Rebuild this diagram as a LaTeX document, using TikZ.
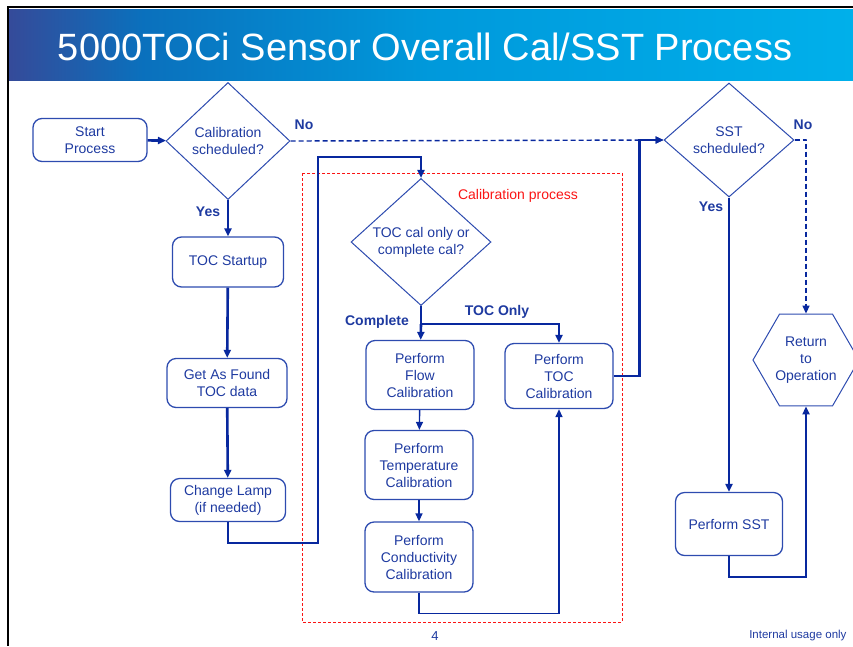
\documentclass[tikz,border=0pt]{standalone}
\usepackage{fontspec}
\setmainfont{Liberation Sans}
\usepackage{xcolor}
\usepackage{tikz}
\usetikzlibrary{arrows.meta,positioning,shapes.geometric}

\definecolor{lineblue}{RGB}{8,40,158}
\definecolor{boxblue}{RGB}{45,75,175}
\definecolor{txtblue}{RGB}{30,58,160}
\definecolor{calred}{RGB}{250,20,20}
\pgfdeclarehorizontalshading{titlebar}{100bp}{rgb(0bp)=(0.21,0.29,0.60); rgb(25bp)=(0.21,0.29,0.60);
  rgb(33bp)=(0.04,0.44,0.74); rgb(50bp)=(0.0,0.60,0.86); rgb(75bp)=(0.0,0.69,0.92); rgb(100bp)=(0.0,0.69,0.92)}

\begin{document}
\begin{tikzpicture}[
    x=1pt, y=-1pt,
    >={Triangle[length=8pt,width=7pt]},
    txt/.style={font=\fontsize{14}{17}\selectfont, text=txtblue, align=center},
    box/.style={txt, draw=boxblue, line width=1.3pt, rounded corners=9pt, inner sep=0pt},
    decision/.style={txt, diamond, draw=boxblue, line width=1pt, inner sep=0pt},
    flow/.style={->, draw=lineblue, line width=2.6pt},
    thinflow/.style={->, draw=lineblue, line width=1.4pt},
    noflow/.style={->, draw=lineblue, line width=1.4pt, dash pattern=on 5pt off 3pt},
    lbl/.style={font=\fontsize{14}{17}\selectfont\bfseries, text=txtblue},
]
\useasboundingbox (0,0) rectangle (853,646);

% --- Title bar ---
\shade[shading=titlebar] (7,9) rectangle (853,80);
\draw[black, line width=2.5pt] (7,7) -- (853,7);
\draw[black, line width=2.5pt] (8,7) -- (8,646);
\node[anchor=base, text=white, font=\fontsize{38}{40}\selectfont] (title) at (425,60)
    {5000TOCi Sensor Overall Cal/SST Process};

% --- Calibration process frame ---
\draw[calred, line width=1pt, dash pattern=on 3pt off 2pt] (302,173) rectangle (622,622);
\node[font=\fontsize{14}{17}\selectfont, text=calred] (calproc) at (518,196) {Calibration process};

% --- Left column ---
\node[box, minimum width=114pt, minimum height=43pt] (start) at (90,140) {Start\\Process};
\node[decision, minimum width=124pt, minimum height=117pt] (calq) at (228,141) {Calibration\\scheduled?};
\node[box, minimum width=111pt, minimum height=50pt] (tocstart) at (228,262) {TOC Startup};
\node[box, minimum width=120pt, minimum height=49pt] (asfound) at (227,383) {Get As Found\\TOC data};
\node[box, minimum width=115pt, minimum height=43pt] (lamp) at (228,500) {Change Lamp\\(if needed)};

% --- Calibration column ---
\node[decision, minimum width=140pt, minimum height=127pt] (tocq) at (421,242) {TOC cal only or\\complete cal?};
\node[box, minimum width=108pt, minimum height=69pt] (flowcal) at (420,375) {Perform\\Flow\\Calibration};
\node[box, minimum width=108pt, minimum height=69pt] (tempcal) at (419,465) {Perform\\Temperature\\Calibration};
\node[box, minimum width=108pt, minimum height=70pt] (condcal) at (419,557) {Perform\\Conductivity\\Calibration};
\node[box, minimum width=108pt, minimum height=65pt] (toccal) at (559,376) {Perform\\TOC\\Calibration};

% --- SST column ---
\node[decision, minimum width=130pt, minimum height=114pt] (sstq) at (729,140) {SST\\scheduled?};
\node[box, minimum width=107pt, minimum height=63pt] (sst) at (729,524) {Perform SST};
\node[txt, regular polygon, regular polygon sides=6, draw=boxblue, line width=1pt,
      minimum size=106pt, inner sep=0pt] (ret) at (806,360) {Return\\to\\Operation};

% --- Connectors ---
\draw[flow] (start) -- (calq);
\draw[noflow] (calq.east) -- (sstq.west);
\draw[flow] (calq) -- (tocstart);
\draw[flow] (tocstart) -- (asfound);
\draw[flow] (asfound) -- (lamp);
\draw[flow] (lamp.south) -- ++(0,21) -| (318,157) -| (tocq.north);
\draw[draw=lineblue, line width=2.6pt] (tocq.south) -- ++(0,18) coordinate (split);
\draw[flow] (split) -- (flowcal);
\draw[flow] (split) -| (toccal.north);
\draw[thinflow] (flowcal) -- (tempcal);
\draw[thinflow] (tempcal) -- (condcal);
\draw[thinflow] (condcal.south) -- ++(0,21) -| (toccal.south);
\draw[flow] (toccal.east) -- ++(26,0) |- (sstq.west);
\draw[noflow] (sstq.east) -- ++(12,0) -| (ret.north);
\draw[flow] (sstq) -- (sst);
\draw[flow] (sst.south) -- ++(0,21) -| (ret.south);

% --- Branch labels ---
\node[lbl] (calno) at (304,125) {No};
\node[lbl] (calyes) at (208,212) {Yes};
\node[lbl] (complete) at (377,322) {Complete};
\node[lbl] (toconly) at (497,312) {TOC Only};
\node[lbl] (sstno) at (803,125) {No};
\node[lbl] (sstyes) at (711,207) {Yes};

% --- Footer ---
\node[font=\fontsize{13}{15}\selectfont, text=txtblue] (page) at (435,636) {4};
\node[font=\fontsize{11.5}{13}\selectfont, text=txtblue, anchor=east] (internal) at (850,636) {Internal usage only};

\end{tikzpicture}
\end{document}
